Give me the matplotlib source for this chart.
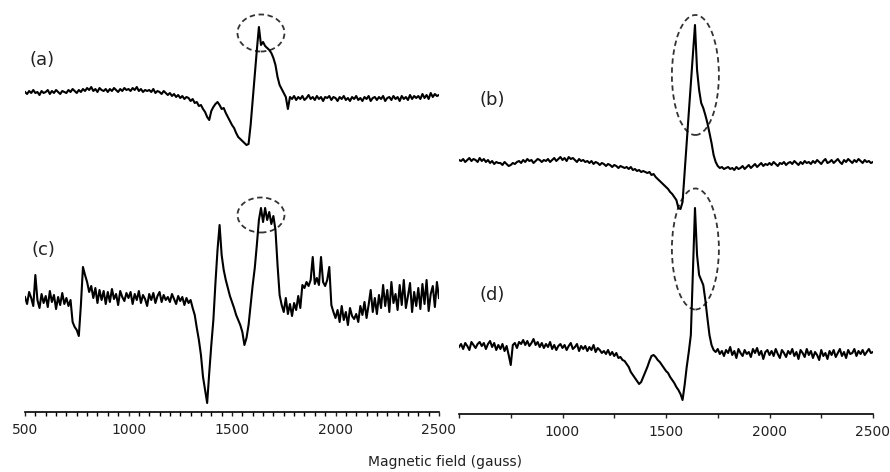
import matplotlib.pyplot as plt
import numpy as np
from matplotlib.patches import Ellipse
from matplotlib.ticker import MultipleLocator

# magnetic field grid (gauss), one reading every 10 G
field = np.arange(500, 2501, 10)

# ESR signal of each sample, arbitrary units relative to its own baseline
sig_a = [
    3, 1, 4, 2, 5, 2, 3, 0, 4, 2,
    3, 5, 1, 4, 2, 5, 3, 1, 4, 3,
    2, 5, 3, 6, 4, 2, 5, 3, 6, 4,
    7, 5, 8, 4, 6, 3, 7, 5, 4, 6,
    3, 6, 4, 7, 5, 3, 6, 4, 7, 5,
    6, 4, 7, 5, 8, 4, 6, 3, 5, 4,
    5, 3, 6, 2, 4, 3, 1, 4, 2, 0,
    2, -1, 1, -2, 0, -3, -1, -4, -2, -3,
    -6, -4, -8, -7, -11, -10, -14, -17, -22, -25,
    -16, -12, -9, -7, -10, -14, -13, -18, -22, -26,
    -30, -33, -38, -42, -44, -46, -48, -50, -49, -30,
    -5, 20, 45, 68, 50, 53, 49, 47, 45, 42,
    37, 30, 18, 10, 6, 2, -2, -14, -2, -4,
    -1, -5, -2, -4, -1, -5, -3, 0, -4, -2,
    -5, -1, -4, -2, -6, -2, -3, -1, -5, -2,
    -3, -6, -2, -4, -1, -5, -3, -6, -2, -4,
    -1, -5, -3, -6, -2, -4, -1, -6, -3, -2,
    -5, -2, -4, -1, -6, -3, -2, -5, -1, -4,
    -2, -6, -1, -4, -2, -5, 0, -4, -1, -3,
    -1, -4, 1, -3, 0, -4, 2, -2, 1, -1,
    0,
]

sig_b = [
    2, 1, 3, 0, 2, 4, 1, 3, 2, 0,
    4, 1, 3, 0, 2, -1, 1, -2, 0, -1,
    -1, -3, 0, -2, -4, -3, -1, -2, 0, 1,
    -1, 2, 0, 3, 1, 2, -1, 1, 3, 2,
    0, 2, 1, 3, 0, 2, 4, 1, 3, 5,
    2, 4, 1, 5, 3, 4, 2, 0, 3, 1,
    2, 0, 1, -1, 1, -2, 0, -1, -3, -1,
    -2, -4, -2, -3, -5, -3, -4, -6, -4, -5,
    -6, -5, -7, -5, -8, -7, -9, -8, -10, -9,
    -10, -11, -10, -13, -12, -15, -17, -19, -21, -23,
    -25, -27, -30, -32, -35, -38, -46, -47, -40, -10,
    19, 49, 78, 107, 137, 92, 72, 59, 54, 47,
    39, 29, 19, 7, 0, -4, -6, -5, -7, -6,
    -5, -7, -6, -8, -5, -7, -6, -4, -7, -5,
    -3, -6, -4, -2, -5, -3, -1, -4, -2, -3,
    -1, -3, 0, -2, -4, -1, -2, 0, -3, -1,
    0, -2, 1, -1, -3, 0, -2, 1, -1, 0,
    -2, 1, -1, 2, 0, -2, 1, 3, -1, 0,
    2, -1, 1, 3, 0, -2, 2, 0, 3, 1,
    -1, 2, 0, 3, 1, -1, 2, 0, 1, -1,
    0,
]

sig_c = [
    3, -4, 8, 2, -6, 25, 0, -8, 6, -3,
    4, -7, 9, -2, 5, -9, 3, -5, 7, -4,
    2, -6, 0, -22, -27, -30, -36, -5, 33, 25,
    18, 8, 14, 2, 12, -3, 10, 0, 9, -4,
    8, -2, 11, 1, 6, -5, 9, 3, -1, 7,
    2, 8, -4, 6, 0, 9, -3, 5, 1, -6,
    6, 0, 7, -3, 4, 8, -2, 5, 0, 3,
    -2, 6, 1, -4, 4, -1, 3, -5, 2, -3,
    0, -8, -15, -28, -40, -55, -77, -90, -103, -73,
    -45, -20, 17, 50, 75, 45, 30, 20, 12, 4,
    -2, -8, -15, -20, -25, -32, -45, -38, -25, -5,
    15, 32, 55, 80, 92, 78, 92, 80, 88, 76,
    84, 70, 35, 5, -5, -12, 2, -14, -4, -16,
    -3, -10, 4, -8, 15, 12, 18, 14, 20, 43,
    16, 22, 15, 43, 18, 14, 20, 33, -5, -12,
    -18, -10, -22, -6, -20, -12, -25, -8, -16, -19,
    -14, -22, -6, -15, -2, -18, -5, 10, -12, 2,
    -14, 5, -8, 15, -6, 10, -12, 18, -3, 6,
    -10, 15, -5, 20, -8, 4, 17, -12, 8, -6,
    12, -9, 16, -4, 20, -11, 6, 14, -7, 18,
    2,
]

sig_d = [
    0, 3, -2, 4, 1, -3, 5, 2, -1, 3,
    5, 1, 4, -2, 3, 6, 0, 4, -3, 2,
    -2, 3, -4, 1, -8, -18, 2, 4, -1, 5,
    3, 7, 2, 6, 1, 4, 8, 2, 5, 0,
    4, -1, 3, 0, 5, -2, 2, -3, 1, 3,
    -1, 2, -3, 1, 4, -2, 0, 3, -4, 1,
    -2, 1, -4, 0, -3, 2, -5, -1, -3, -6,
    -4, -7, -3, -8, -5, -9, -6, -11, -10, -13,
    -14, -17, -20, -25, -28, -31, -34, -37, -35, -30,
    -25, -20, -14, -9, -8, -10, -13, -15, -18, -21,
    -24, -26, -30, -33, -36, -40, -43, -47, -53, -38,
    -20, -5, 12, 77, 139, 92, 72, 67, 62, 47,
    29, 12, 2, -3, -5, -2, -7, -4, -9, -3,
    -6, 0, -8, -4, -11, -2, -6, -9, -3, -7,
    -5, -10, -2, -6, -1, -8, -4, -12, -5, -3,
    -8, -4, -9, -2, -7, -11, -3, -6, -10, -4,
    -7, -2, -9, -5, -12, -3, -6, -10, -2, -8,
    -4, -11, -5, -8, -13, -3, -9, -6, -12, -4,
    -8, -3, -10, -6, -2, -9, -5, -11, -3, -7,
    -6, -2, -9, -4, -7, -3, -8, -5, -2, -6,
    -5,
]

W, H = 890, 472
fig = plt.figure(figsize=(W / 100, H / 100), dpi=100)

def px_axes(x0, x1, y_bottom):
    return fig.add_axes([x0 / W, (H - y_bottom) / H, (x1 - x0) / W, y_bottom / H])

ax_l = px_axes(25, 439, 412)
ax_r = px_axes(459, 873, 414)

# vertical stacking offsets (screen units above each axis)
ax_l.plot(field, np.array(sig_a) + 317, color='black', lw=1.5)
ax_l.plot(field, np.array(sig_c) + 112, color='black', lw=1.5)
ax_r.plot(field, np.array(sig_b) + 252, color='black', lw=1.5)
ax_r.plot(field, np.array(sig_d) + 67, color='black', lw=1.5)

ax_l.set_ylim(0, 412)
ax_r.set_ylim(0, 414)

for ax in (ax_l, ax_r):
    ax.set_xlim(500, 2500)
    ax.patch.set_alpha(0)
    for s in ('left', 'right', 'top'):
        ax.spines[s].set_visible(False)
    ax.spines['bottom'].set_linewidth(1.2)
    ax.set_yticks([])
    ax.tick_params(axis='x', labelsize=10, colors='#222222', width=1)

ax_l.xaxis.set_major_locator(MultipleLocator(500))
ax_l.xaxis.set_minor_locator(MultipleLocator(50))
ax_l.tick_params(axis='x', which='major', length=3, pad=5)
ax_l.tick_params(axis='x', which='minor', length=3, width=1)

ax_r.set_xticks([500, 750, 1000, 1250, 1500, 1750, 2000, 2250, 2500])
ax_r.set_xticklabels(['', '', '1000', '', '1500', '', '2000', '', '2500'])
ax_r.tick_params(axis='x', which='major', length=3, pad=5)

# dashed ellipses marking the narrow line near 1640 G
ell = dict(fill=False, ls=(0, (3, 2)), lw=1.3, ec='#333333')
ax_l.add_patch(Ellipse((1640, 379), 227, 37, **ell))
ax_l.add_patch(Ellipse((1640, 197), 227, 35, **ell))
ax_r.add_patch(Ellipse((1642, 339), 227, 120, **ell))
ax_r.add_patch(Ellipse((1642, 165), 227, 121, **ell))

for lab, x, y in [('(a)', 42, 60), ('(b)', 492, 100), ('(c)', 43, 250), ('(d)', 492, 295)]:
    fig.text(x / W, 1 - y / H, lab, fontsize=13, ha='center', va='center', color='#222222')

fig.text(445 / W, 1 - 462 / H, 'Magnetic field (gauss)', fontsize=10, ha='center', va='center',
         color='#222222')

fig.savefig('out.png', dpi=100)
